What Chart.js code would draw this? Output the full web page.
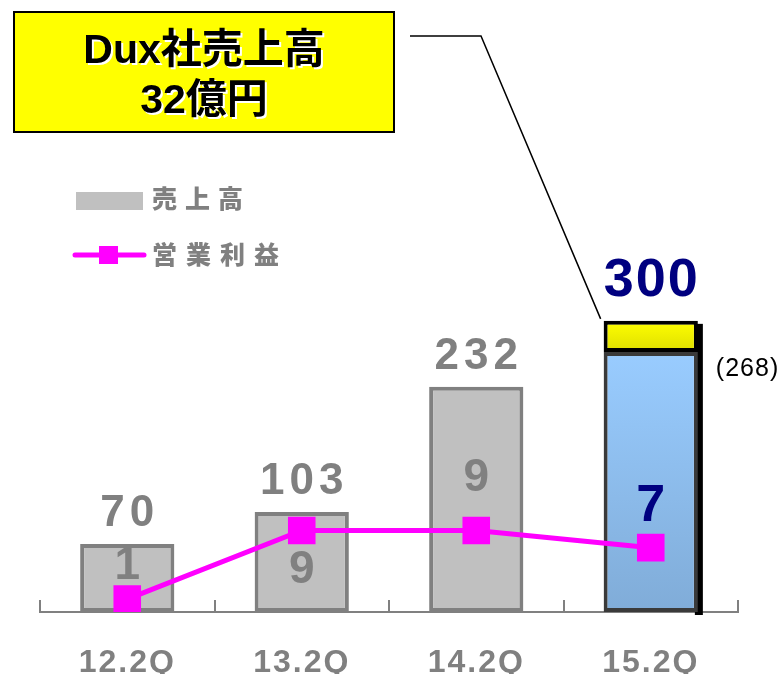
<!DOCTYPE html>
<html>
<head>
<meta charset="utf-8">
<script src="https://cdn.jsdelivr.net/npm/chart.js@4"></script>
<style>
html, body { margin: 0; padding: 0; background: #fff; }
#wrap { width: 783px; height: 674px; }
</style>
</head>
<body>
<div id="wrap"><canvas id="chart" width="783" height="674"></canvas></div>
<script>
const categories = ['12.2Q', '13.2Q', '14.2Q', '15.2Q'];
const revenue = [70, 103, 232, 268];
const duxRevenue = [null, null, null, 32];
const operatingProfit = [1, 9, 9, 7];
const seriesNames = ['売上高', '営業利益', 'Dux社売上高'];
const calloutText = ['Dux社売上高', '32億円'];

const FONT = "'Liberation Sans', 'Noto Sans CJK JP', sans-serif";
const GRAY = '#808080';
const NAVY = '#000080';
// nudge of the profit numbers away from their square (px)
const profitLabelShift = [-33, 40, -52, -41];

function txt(ctx, s, x, y, font, color, spacing, align) {
    spacing = spacing || 0;
    ctx.save();
    ctx.font = font;
    ctx.fillStyle = color;
    ctx.letterSpacing = spacing + 'px';
    ctx.textAlign = align || 'center';
    ctx.textBaseline = 'middle';
    ctx.fillText(String(s), x + (align === 'left' ? 0 : spacing / 2), y);
    ctx.restore();
}

function blueFill(c) {
    const chart = c.chart;
    const ys = chart.scales.y;
    if (!chart.chartArea || !ys) return '#8fbcec';
    const g = chart.ctx.createLinearGradient(0, ys.getPixelForValue(revenue[3]), 0, ys.getPixelForValue(0));
    g.addColorStop(0, '#99ccff');
    g.addColorStop(1, '#80acd8');
    return g;
}

function yellowFill(c) {
    const chart = c.chart;
    const ys = chart.scales.y;
    if (!chart.chartArea || !ys) return '#ffff00';
    const g = chart.ctx.createLinearGradient(0, ys.getPixelForValue(revenue[3] + duxRevenue[3]), 0, ys.getPixelForValue(revenue[3]));
    g.addColorStop(0, '#ffff00');
    g.addColorStop(1, '#dede00');
    return g;
}

const decor = {
    id: 'decor',
    beforeDraw(chart) {
        chart.ctx.letterSpacing = '2px'; // spacing for the category labels
    },
    beforeDatasetsDraw(chart) {
        // black drop shadow on the right of the last bar
        const ctx = chart.ctx;
        const bar = chart.getDatasetMeta(2).data[3];
        if (!bar) return;
        const right = bar.x + bar.width / 2;
        const base = chart.scales.y.getPixelForValue(0);
        ctx.save();
        ctx.fillStyle = '#000';
        ctx.fillRect(right - 3, bar.y + 3, 8, base - bar.y);
        ctx.restore();
    },
    afterDatasetsDraw(chart) {
        const ctx = chart.ctx;
        const xs = chart.scales.x, ys = chart.scales.y, y2 = chart.scales.y2;
        const a = chart.chartArea;

        // small upward ticks on the category axis
        ctx.save();
        ctx.strokeStyle = GRAY;
        ctx.lineWidth = 2;
        for (let k = 0; k <= categories.length; k++) {
            const x = Math.round(a.left + k * (a.right - a.left) / categories.length);
            ctx.beginPath();
            ctx.moveTo(x, a.bottom);
            ctx.lineTo(x, a.bottom - 12);
            ctx.stroke();
        }
        ctx.restore();

        for (let i = 0; i < categories.length; i++) {
            const x = xs.getPixelForValue(i);
            const total = revenue[i] + (duxRevenue[i] || 0);
            const top = ys.getPixelForValue(total);
            if (duxRevenue[i]) {
                txt(ctx, total, x, top - 40, 'bold 54px ' + FONT, NAVY, 2);
            } else {
                txt(ctx, total, x, top - 30, 'bold 44px ' + FONT, GRAY, 5);
            }
            const py = y2.getPixelForValue(operatingProfit[i]) + profitLabelShift[i];
            if (i === 3) {
                txt(ctx, operatingProfit[i], x, py, 'bold 52px ' + FONT, NAVY, 0);
            } else {
                txt(ctx, operatingProfit[i], x, py, 'bold 46px ' + FONT, GRAY, 0);
            }
        }

        // base part of the last bar
        const bar = chart.getDatasetMeta(1).data[3];
        if (bar) {
            txt(ctx, '(' + revenue[3] + ')', bar.x + bar.width / 2 + 18,
                ys.getPixelForValue(revenue[3]) + 17, '25px ' + FONT, '#000', 1, 'left');
        }
    },
    afterDraw(chart) {
        const ctx = chart.ctx;
        const ds = chart.data.datasets;

        // legend
        ctx.save();
        ctx.fillStyle = '#c0c0c0';
        ctx.fillRect(76, 192, 67, 18);
        ctx.strokeStyle = ds[0].borderColor;
        ctx.lineWidth = 5;
        ctx.lineCap = 'round';
        ctx.beginPath();
        ctx.moveTo(75, 255);
        ctx.lineTo(144, 255);
        ctx.stroke();
        ctx.fillStyle = ds[0].borderColor;
        ctx.fillRect(99, 246, 19, 18);
        ctx.restore();
        txt(ctx, ds[1].label, 152, 201, '900 25px ' + FONT, GRAY, 8, 'left');
        txt(ctx, ds[0].label, 152, 257, '900 25px ' + FONT, GRAY, 9, 'left');

        // callout box
        ctx.save();
        ctx.fillStyle = '#ffff00';
        ctx.fillRect(14, 12, 380, 120);
        ctx.strokeStyle = '#000';
        ctx.lineWidth = 2;
        ctx.strokeRect(14, 12, 380, 120);
        const dux = chart.getDatasetMeta(2).data[3];
        if (dux) {
            ctx.lineWidth = 1.5;
            ctx.beginPath();
            ctx.moveTo(410, 36);
            ctx.lineTo(481, 36);
            ctx.lineTo(dux.x - dux.width / 2 - 3, dux.y - 2);
            ctx.stroke();
        }
        ctx.restore();
        const cx = 204;
        [[calloutText[0], 52], [calloutText[1], 102]].forEach(function (t) {
            txt(ctx, t[0], cx + 2, t[1] + 2, 'bold 41px ' + FONT, '#fff', 0);
            txt(ctx, t[0], cx, t[1], 'bold 41px ' + FONT, '#000', 0);
        });
    }
};

new Chart(document.getElementById('chart').getContext('2d'), {
    data: {
        labels: categories,
        datasets: [{
            type: 'line',
            label: seriesNames[1],
            data: operatingProfit,
            yAxisID: 'y2',
            borderColor: '#ff00ff',
            borderWidth: 5,
            pointStyle: 'rect',
            pointRadius: 19.5,
            pointBackgroundColor: '#ff00ff',
            pointBorderWidth: 0,
            tension: 0,
            order: 0
        }, {
            type: 'bar',
            label: seriesNames[0],
            data: revenue,
            yAxisID: 'y',
            stack: 's',
            backgroundColor: c => c.dataIndex === 3 ? blueFill(c) : '#c0c0c0',
            borderColor: c => c.dataIndex === 3 ? '#3a3a3a' : GRAY,
            borderWidth: 4,
            borderSkipped: false,
            barPercentage: 0.54,
            categoryPercentage: 1,
            order: 1
        }, {
            type: 'bar',
            label: seriesNames[2],
            data: duxRevenue,
            yAxisID: 'y',
            stack: 's',
            backgroundColor: yellowFill,
            borderColor: '#000',
            borderWidth: 4,
            borderSkipped: false,
            barPercentage: 0.54,
            categoryPercentage: 1,
            order: 1
        }]
    },
    options: {
        responsive: false,
        animation: false,
        devicePixelRatio: 1,
        layout: { padding: { left: 40, right: 45, top: 20, bottom: 0 } },
        plugins: { legend: { display: false }, tooltip: { enabled: false } },
        scales: {
            x: {
                stacked: true,
                offset: true,
                grid: { display: true, drawOnChartArea: false, drawTicks: false },
                border: { display: true, color: GRAY, width: 2 },
                ticks: { color: GRAY, padding: 32, font: { family: FONT, size: 32, weight: 'bold' } },
                afterFit: s => { s.height = 62; }
            },
            y: { stacked: true, display: false, min: 0, max: 610 },
            y2: { display: false, min: -0.5, max: 68.5 }
        }
    },
    plugins: [decor]
});
</script>
</body>
</html>
